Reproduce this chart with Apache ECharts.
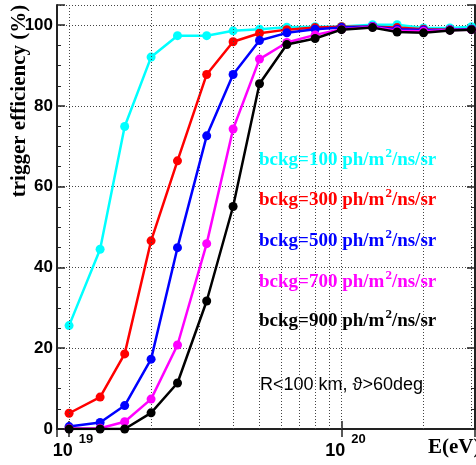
<!DOCTYPE html>
<html>
<head>
<meta charset="utf-8">
<script src="https://cdn.jsdelivr.net/npm/echarts@6/dist/echarts.min.js"></script>
<style>
  html, body { margin: 0; padding: 0; background: #fff; }
  #chart { width: 476px; height: 465px; }
</style>
</head>
<body>
<div id="chart"></div>
<script>
// energies in eV
var energies = [1.0e19, 1.3e19, 1.6e19, 2.0e19, 2.5e19, 3.2e19, 4.0e19, 5.0e19, 6.3e19, 8.0e19,
                1.0e20, 1.3e20, 1.6e20, 2.0e20, 2.5e20, 3.0e20];

// trigger efficiency (%) per background level
var eff100 = [25.6, 44.5, 74.9, 92.1, 97.4, 97.4, 98.6, 99.0, 99.5, 99.6, 99.7, 100.1, 100.1, 99.3, 99.3, 99.6];
var eff300 = [3.9, 7.9, 18.6, 46.6, 66.4, 87.8, 95.9, 98.0, 98.9, 99.4, 99.6, 99.6, 99.4, 99.0, 98.9, 99.0];
var eff500 = [0.6, 1.6, 5.8, 17.3, 44.9, 72.6, 87.8, 96.2, 98.1, 99.0, 99.4, 99.7, 99.0, 98.8, 98.9, 99.0];
var eff700 = [0.1, 0.2, 1.8, 7.4, 20.8, 45.9, 74.3, 91.6, 95.7, 97.6, 99.0, 99.6, 98.6, 98.5, 98.8, 98.9];
var eff900 = [0, 0, 0, 4.0, 11.4, 31.7, 55.1, 85.5, 95.2, 96.7, 98.9, 99.4, 98.3, 98.1, 98.7, 98.9];

var bckgLevels = ['100', '300', '500', '700', '900'];
var colors = ['#00ffff', '#ff0000', '#0000ff', '#ff00ff', '#000000'];
var allEff = [eff100, eff300, eff500, eff700, eff900];

// vertical grid positions (dotted)
var gridX = [1e19, 2e19, 3e19, 4e19, 5e19, 6e19, 7e19, 8e19, 9e19, 1e20, 2e20, 3e20];

var xMin = 9.03e18, xMax = 3.09e20;
var frame = '#222';
var dotted = { color: '#444', width: 1, type: [1, 2] };

var chart = echarts.init(document.getElementById('chart'));

var series = allEff.map(function (vals, i) {
    return {
        name: 'bckg=' + bckgLevels[i],
        type: 'line',
        data: energies.map(function (e, k) { return [e, vals[k]]; }),
        symbol: 'circle',
        symbolSize: 9,
        itemStyle: { color: colors[i] },
        lineStyle: { color: colors[i], width: 2.5 },
        z: 3 + i
    };
});

// dotted grid lines through the axis scale
series.push({
    type: 'line',
    data: [],
    markLine: {
        silent: true,
        symbol: 'none',
        label: { show: false },
        lineStyle: dotted,
        animation: false,
        data: gridX.map(function (v) { return { xAxis: v }; })
    },
    z: 1
});

function expLabel(v) {
    var p = Math.log10(v);
    if (Math.abs(p - Math.round(p)) > 1e-6) return '';
    return '{b|10}{s|' + Math.round(p) + '}';
}

var supText = function (txt, color, y) {
    return {
        type: 'text',
        x: 259,
        y: y,
        style: {
            text: '{a|bckg=' + txt + ' ph/m}{s|2}{a|/ns/sr}',
            verticalAlign: 'middle',
            rich: {
                a: { fontFamily: 'Liberation Serif', fontWeight: 'bold', fontSize: 19, fill: color },
                s: { fontFamily: 'Liberation Serif', fontWeight: 'bold', fontSize: 13, fill: color, padding: [0, 0, 12, 1] }
            }
        },
        z: 10
    };
};

var option = {
    animation: false,
    grid: { left: 57, right: 1, top: 5, bottom: 36 },
    xAxis: [{
        type: 'log',
        min: xMin,
        max: xMax,
        axisLine: { show: true, lineStyle: { color: frame, width: 2 } },
        axisTick: { show: true, inside: true, length: 8, lineStyle: { color: frame, width: 1.5 } },
        splitLine: { show: false },
        axisLabel: {
            margin: 1,
            formatter: expLabel,
            showMinLabel: false,
            showMaxLabel: false,
            rich: {
                b: { fontFamily: 'Liberation Sans', fontWeight: 'bold', fontSize: 18, color: '#000', padding: [12, 6, 0, 8] },
                s: { fontFamily: 'Liberation Sans', fontWeight: 'bold', fontSize: 13, color: '#000', padding: [0, 0, 12, 0] }
            }
        }
    }, {
        type: 'log',
        min: xMin,
        max: xMax,
        position: 'top',
        axisLine: { show: true, lineStyle: { color: frame, width: 2 } },
        axisTick: { show: true, inside: true, length: 8, lineStyle: { color: frame, width: 1.5 } },
        axisLabel: { show: false },
        splitLine: { show: false }
    }],
    yAxis: [{
        type: 'value',
        min: 0,
        max: 105,
        interval: 20,
        axisLine: { show: true, lineStyle: { color: frame, width: 2 } },
        axisTick: { show: true, inside: true, length: 8, lineStyle: { color: frame, width: 1.5 } },
        minorTick: { show: true, splitNumber: 4, length: 4, lineStyle: { color: frame, width: 1 } },
        splitLine: { show: true, lineStyle: dotted },
        axisLabel: {
            margin: 4,
            fontFamily: 'Liberation Sans',
            fontWeight: 'bold',
            fontSize: 17,
            color: '#000',
            showMaxLabel: false
        }
    }, {
        type: 'value',
        min: 0,
        max: 105,
        interval: 20,
        position: 'right',
        axisLine: { show: true, lineStyle: { color: frame, width: 2 } },
        axisTick: { show: true, inside: true, length: 8, lineStyle: { color: frame, width: 1.5 } },
        minorTick: { show: true, splitNumber: 4, length: 4, lineStyle: { color: frame, width: 1 } },
        splitLine: { show: false },
        axisLabel: { show: false }
    }],
    series: series,
    graphic: [
        {
            type: 'text',
            x: 20,
            y: 101,
            rotation: Math.PI / 2,
            style: {
                text: 'trigger efficiency (%)',
                font: 'bold 21px "Liberation Serif"',
                fill: '#000',
                align: 'center',
                verticalAlign: 'middle'
            }
        },
        {
            type: 'text',
            x: 428,
            y: 448,
            style: {
                text: 'E(eV)',
                font: 'bold 21px "Liberation Serif"',
                fill: '#000',
                align: 'left',
                verticalAlign: 'middle'
            }
        },
        supText('100', colors[0], 160),
        supText('300', colors[1], 200),
        supText('500', colors[2], 241),
        supText('700', colors[3], 282),
        supText('900', colors[4], 321),
        {
            type: 'text',
            x: 260,
            y: 385,
            style: {
                text: 'R<100 km, \u03d1>60deg',
                font: '18px "Liberation Sans"',
                fill: '#000',
                align: 'left',
                verticalAlign: 'middle'
            }
        }
    ]
};

chart.setOption(option);
</script>
</body>
</html>
